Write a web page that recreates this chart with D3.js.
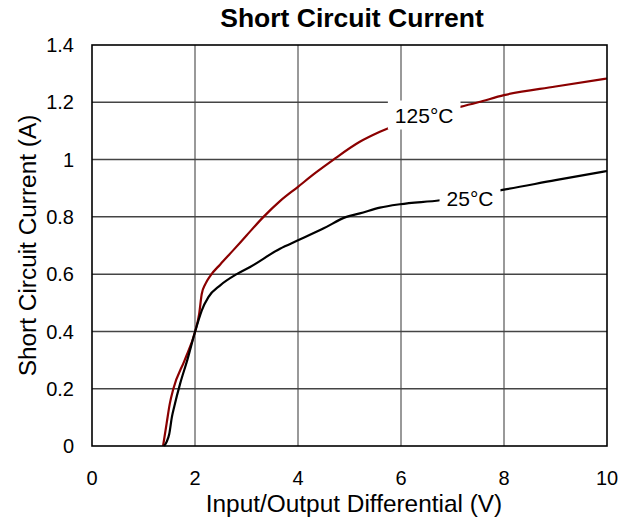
<!DOCTYPE html>
<html><head><meta charset="utf-8">
<script src="https://cdn.jsdelivr.net/npm/d3@7"></script>
<style>body{margin:0;background:#fff}svg{display:block}text{font-family:"Liberation Sans",Arial,sans-serif}</style>
</head><body>
<svg id="c" width="635" height="520"></svg>
<script>
const xTicks = [0, 2, 4, 6, 8, 10];
const yTicks = [0, 0.2, 0.4, 0.6, 0.8, 1, 1.2, 1.4];
const v125 = [1.38,1.45,1.51,1.58,1.8,2.0,2.08,2.13,2.2,2.3,2.49,2.74,3.0,3.33,3.65,4.0,4.35,4.69,5.2,5.59,6.2,6.8,7.15,7.5,8.0,9.0,10];
const i125 = [0,0.08,0.147,0.2,0.3,0.398,0.46,0.53,0.565,0.595,0.634,0.683,0.735,0.8,0.855,0.905,0.955,1.0,1.062,1.097,1.14,1.17,1.184,1.2,1.225,1.255,1.283];
const v25 = [1.4,1.45,1.5,1.55,1.6,1.71,1.85,2.0,2.07,2.13,2.26,2.49,2.81,3.07,3.65,4.0,4.5,4.94,5.2,5.59,5.98,6.76,7.5,8.0,9.0,10];
const i25 = [0,0.015,0.042,0.1,0.14,0.217,0.3,0.398,0.44,0.473,0.52,0.561,0.6,0.625,0.689,0.718,0.76,0.8,0.812,0.832,0.844,0.858,0.88,0.895,0.928,0.96];
const series = [
  {name:"125°C", v:v125, i:i125, color:"#8b0000", lx:6.45, ly:1.155},
  {name:"25°C", v:v25, i:i25, color:"#000000", lx:7.34, ly:0.865}
];

const svg = d3.select("#c");
const L=92, R=607, T=45, B=446;
const x = d3.scaleLinear().domain([0,10]).range([L,R]);
const y = d3.scaleLinear().domain([0,1.4]).range([B,T]);

// grid
svg.append("g").selectAll("line").data(xTicks.slice(1,-1)).join("line")
  .attr("x1",d=>x(d)).attr("x2",d=>x(d)).attr("y1",T).attr("y2",B)
  .attr("stroke","#777").attr("stroke-width",1.5);
svg.append("g").selectAll("line").data(yTicks.slice(1,-1)).join("line")
  .attr("x1",L).attr("x2",R).attr("y1",d=>y(d)).attr("y2",d=>y(d))
  .attr("stroke","#444").attr("stroke-width",1.5);

// lines
const line = d3.line().x(d=>x(d[0])).y(d=>y(d[1])).curve(d3.curveMonotoneX);
series.forEach(s=>{
  const pts = s.v.map((vv,k)=>[vv,s.i[k]]);
  svg.append("path").attr("d",line(pts)).attr("fill","none")
    .attr("stroke",s.color).attr("stroke-width",2.2);
});

// labels with white background
series.forEach(s=>{
  const t = svg.append("text").attr("x",x(s.lx)).attr("y",y(s.ly))
    .attr("text-anchor","middle").attr("dy","0.35em")
    .attr("font-size",21).attr("fill","#000").text(s.name);
  const bb = t.node().getBBox();
  svg.insert("rect", function(){return t.node();})
    .attr("x",bb.x-7).attr("y",bb.y-3).attr("width",bb.width+14).attr("height",bb.height+6)
    .attr("fill","#fff");
});

// frame
svg.append("rect").attr("x",L).attr("y",T).attr("width",R-L).attr("height",B-T)
  .attr("fill","none").attr("stroke","#000").attr("stroke-width",1.6);

// tick labels
svg.append("g").selectAll("text").data(xTicks).join("text")
  .attr("x",d=>x(d)).attr("y",B+39).attr("text-anchor","middle")
  .attr("font-size",20).text(d=>String(d));
svg.append("g").selectAll("text").data(yTicks).join("text")
  .attr("x",L-18).attr("y",d=>y(d)).attr("dy","0.36em").attr("text-anchor","end")
  .attr("font-size",20).text(d=>String(d));

// axis titles
svg.append("text").attr("x",354).attr("y",512).attr("text-anchor","middle")
  .attr("font-size",24.4).text("Input/Output Differential (V)");
svg.append("text").attr("transform",`translate(36,${(T+B)/2}) rotate(-90)`)
  .attr("text-anchor","middle").attr("font-size",24.4).text("Short Circuit Current (A)");
svg.append("text").attr("x",352).attr("y",27).attr("text-anchor","middle")
  .attr("font-size",26.5).attr("font-weight","bold").text("Short Circuit Current");
</script>
</body></html>
